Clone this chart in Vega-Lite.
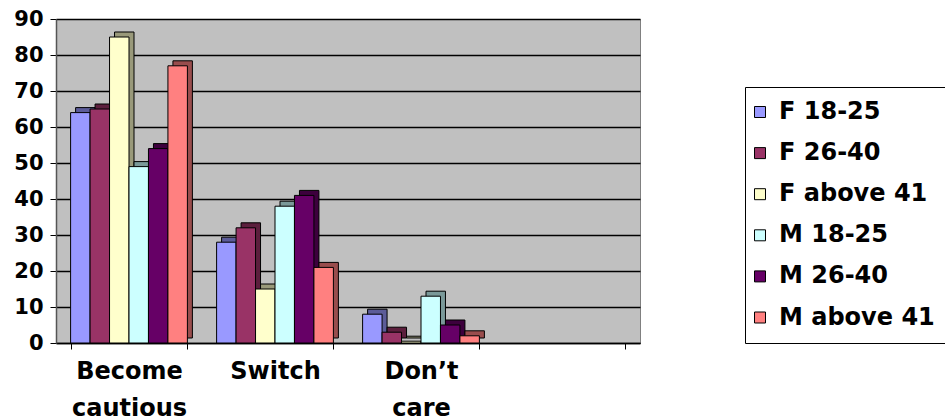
{
  "$schema": "https://vega.github.io/schema/vega-lite/v6.json",
  "width": 584,
  "height": 324,
  "autosize": {"type": "none"},
  "padding": {"left": 56, "top": 19, "right": 305, "bottom": 76},
  "background": "white",
  "config": {
    "view": {"fill": "#C0C0C0", "stroke": "#808080", "strokeWidth": 1},
    "font": "DejaVu Sans"
  },
  "data": {
    "values": [
      {"response": "Become cautious", "group": "F 18-25", "value": 64},
      {"response": "Become cautious", "group": "F 26-40", "value": 65},
      {"response": "Become cautious", "group": "F above 41", "value": 85},
      {"response": "Become cautious", "group": "M 18-25", "value": 49},
      {"response": "Become cautious", "group": "M 26-40", "value": 54},
      {"response": "Become cautious", "group": "M above 41", "value": 77},
      {"response": "Switch", "group": "F 18-25", "value": 28},
      {"response": "Switch", "group": "F 26-40", "value": 32},
      {"response": "Switch", "group": "F above 41", "value": 15},
      {"response": "Switch", "group": "M 18-25", "value": 38},
      {"response": "Switch", "group": "M 26-40", "value": 41},
      {"response": "Switch", "group": "M above 41", "value": 21},
      {"response": "Don’t care", "group": "F 18-25", "value": 8},
      {"response": "Don’t care", "group": "F 26-40", "value": 3},
      {"response": "Don’t care", "group": "F above 41", "value": 0.5},
      {"response": "Don’t care", "group": "M 18-25", "value": 13},
      {"response": "Don’t care", "group": "M 26-40", "value": 5},
      {"response": "Don’t care", "group": "M above 41", "value": 2}
    ]
  },
  "encoding": {
    "x": {
      "field": "response",
      "type": "nominal",
      "sort": null,
      "scale": {"domain": ["Become cautious", "Switch", "Don’t care", " "], "paddingInner": 0.2, "paddingOuter": 0.1},
      "axis": {
        "title": null,
        "labelAngle": 0,
        "labelExpr": "split(datum.label, ' ')",
        "labelFont": "DejaVu Sans",
        "labelFontWeight": "bold",
        "labelFontSize": 24,
        "labelColor": "black",
        "labelLineHeight": 37,
        "labelPadding": 10,
        "tickBand": "extent",
        "tickSize": 6,
        "tickColor": "black",
        "domainColor": "black",
        "domainWidth": 1.5,
        "grid": false
      }
    },
    "y": {
      "field": "value",
      "type": "quantitative",
      "scale": {"domain": [0, 90], "nice": false},
      "axis": {
        "title": null,
        "values": [0, 10, 20, 30, 40, 50, 60, 70, 80, 90],
        "labelFont": "DejaVu Sans",
        "labelFontWeight": "bold",
        "labelFontSize": 21,
        "labelColor": "black",
        "labelPadding": 7,
        "tickSize": 6,
        "tickColor": "black",
        "domainColor": "#555555",
        "domainWidth": 1.5,
        "grid": true,
        "gridColor": "black",
        "gridWidth": 1.5
      }
    }
  },
  "layer": [
    {
      "mark": {"type": "bar", "yOffset": -5, "stroke": "black", "strokeWidth": 1},
      "encoding": {
        "xOffset": {
          "field": "group",
          "type": "nominal",
          "sort": ["F 18-25", "F 26-40", "F above 41", "M 18-25", "M 26-40", "M above 41"],
          "scale": {"paddingInner": 0, "paddingOuter": 0, "range": [5, 121.8]}
        },
        "color": {
          "field": "group",
          "type": "nominal",
          "scale": {
            "domain": ["F 18-25", "F 26-40", "F above 41", "M 18-25", "M 26-40", "M above 41"],
            "range": ["#5C5C99", "#5C1F3D", "#99997A", "#7A9999", "#3D003D", "#994D4D"]
          },
          "legend": null
        }
      }
    },
    {
      "mark": {"type": "bar", "stroke": "black", "strokeWidth": 1},
      "encoding": {
        "xOffset": {
          "field": "group",
          "type": "nominal",
          "sort": ["F 18-25", "F 26-40", "F above 41", "M 18-25", "M 26-40", "M above 41"],
          "scale": {"paddingInner": 0, "paddingOuter": 0, "range": [0, 116.8]}
        },
        "color": {
          "field": "group",
          "type": "nominal",
          "scale": {
            "domain": ["F 18-25", "F 26-40", "F above 41", "M 18-25", "M 26-40", "M above 41"],
            "range": ["#9999FF", "#993366", "#FFFFCC", "#CCFFFF", "#660066", "#FF8080"]
          },
          "legend": {
            "title": null,
            "orient": "none",
            "legendX": 689,
            "legendY": 68,
            "padding": 13,
            "strokeColor": "black",
            "fillColor": "white",
            "symbolType": "square",
            "symbolSize": 121,
            "symbolOffset": -10,
            "symbolStrokeColor": "black",
            "symbolStrokeWidth": 1,
            "labelFont": "DejaVu Sans",
            "labelFontWeight": "bold",
            "labelFontSize": 24,
            "labelColor": "black",
            "labelOffset": 7,
            "labelLimit": 300,
            "rowPadding": 17.1
          }
        }
      }
    }
  ],
  "resolve": {"scale": {"color": "independent", "xOffset": "independent"}}
}
